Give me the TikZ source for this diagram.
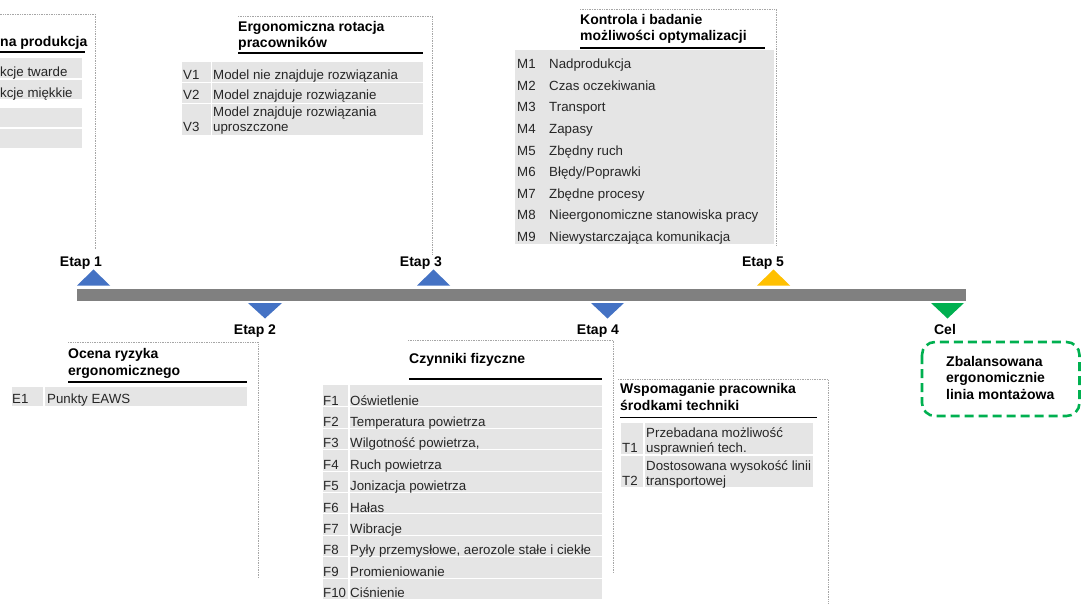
\documentclass[tikz,border=0pt]{standalone}
\usepackage{fontspec}
\setmainfont{Liberation Sans}
\definecolor{cellgray}{RGB}{229,229,229}
\definecolor{bargray}{RGB}{128,128,128}
\definecolor{stepblue}{RGB}{68,114,196}
\definecolor{stepyellow}{RGB}{255,192,0}
\definecolor{goalgreen}{RGB}{0,176,80}

\begin{document}
\begin{tikzpicture}[x=1pt,y=-1pt,
  dotline/.style={color=gray!70,densely dotted,line width=0.7pt},
  cell/.style={fill=cellgray},
  uline/.style={color=black,line width=1.6pt},
  ttl/.style={anchor=base west,inner sep=0pt,font=\fontsize{14}{16}\selectfont\bfseries},
  txt/.style={anchor=base west,inner sep=0pt,text=black!85,font=\fontsize{13.3}{15}\selectfont},
  etap/.style={anchor=base,inner sep=0pt,font=\fontsize{14}{16}\selectfont\bfseries}]
\useasboundingbox (0,0) rectangle (1082,604);
\fill[color=white] (0,0) rectangle (1082,604);
% Drawing the time line
\fill[color=bargray] (76.5,289) rectangle (966,300.5);
% Stages above the line
\fill[color=stepblue] (77,285.5) -- (110,285.5) -- (93.5,269.5) -- cycle;
\node[etap] (etap1) at (81,266.5) {Etap 1};
\fill[color=stepblue] (417,285.5) -- (450,285.5) -- (433.5,269.5) -- cycle;
\node[etap] (etap3) at (421,266.5) {Etap 3};
\fill[color=stepyellow] (757,285.5) -- (790,285.5) -- (773.5,269.5) -- cycle;
\node[etap] (etap5) at (763,266.5) {Etap 5};
% Stages below the line
\fill[color=stepblue] (248,303) -- (282,303) -- (265,318.5) -- cycle;
\node[etap] (etap2) at (255,334) {Etap 2};
\fill[color=stepblue] (591,303) -- (624,303) -- (607.5,318.5) -- cycle;
\node[etap] (etap4) at (598,334) {Etap 4};
\fill[color=goalgreen] (931,303) -- (964,303) -- (947.5,318.5) -- cycle;
\node[etap] (cel) at (945,334) {Cel};
% Done with the time line; drawing the boxes

% Box 1: production
\draw[dotline] (-2,14) -- (95,14) -- (95,250);
\node[ttl] (ttlA) at (0,47) {na produkcja};
\draw[uline] (-2,52) -- (85,52);
\fill[cell] (-2,58) rectangle (82,78.5);
\fill[cell] (-2,80) rectangle (82,99.5);
\fill[cell] (-2,108) rectangle (82,127.5);
\fill[cell] (-2,129.5) rectangle (82,148.5);
\node[txt] (rowA1) at (0,76.5) {kcje twarde};
\node[txt] (rowA2) at (0,97.3) {kcje miękkie};

% Box 3: rotation
\draw[dotline] (238,16) -- (432,16) -- (432,255);
\node[ttl] (ttlC1) at (238,31.5) {Ergonomiczna rotacja};
\node[ttl] (ttlC2) at (238,48) {pracowników};
\draw[uline] (238,53) -- (423,53);
\fill[cell] (182,62) rectangle (210.5,82);
\fill[cell] (212,62) rectangle (423,82);
\fill[cell] (182,83.5) rectangle (210.5,103);
\fill[cell] (212,83.5) rectangle (423,103);
\fill[cell] (182,104.5) rectangle (210.5,135);
\fill[cell] (212,104.5) rectangle (423,135);
\node[txt] (v1) at (183,79.5) {V1};
\node[txt] (v1t) at (213,79.5) {Model nie znajduje rozwiązania};
\node[txt] (v2) at (183,100) {V2};
\node[txt] (v2t) at (213,100) {Model znajduje rozwiązanie};
\node[txt] (v3) at (183,132) {V3};
\node[txt] (v3a) at (213,116.5) {Model znajduje rozwiązania};
\node[txt] (v3b) at (213,132) {uproszczone};

% Box 5: waste check
\draw[dotline] (580,9) -- (776,9) -- (776,245);
\node[ttl] (ttlE1) at (580,24.5) {Kontrola i badanie};
\node[ttl] (ttlE2) at (580,41) {możliwości optymalizacji};
\draw[uline] (580,48) -- (765,48);
\fill[cell] (515,50) rectangle (774,244);
\node[txt] (m1) at (517,68.8) {M1};
\node[txt] (m1t) at (549,68.8) {Nadprodukcja};
\node[txt] (m2) at (517,90.4) {M2};
\node[txt] (m2t) at (549,90.4) {Czas oczekiwania};
\node[txt] (m3) at (517,112) {M3};
\node[txt] (m3t) at (549,112) {Transport};
\node[txt] (m4) at (517,133.6) {M4};
\node[txt] (m4t) at (549,133.6) {Zapasy};
\node[txt] (m5) at (517,155.2) {M5};
\node[txt] (m5t) at (549,155.2) {Zbędny ruch};
\node[txt] (m6) at (517,176.8) {M6};
\node[txt] (m6t) at (549,176.8) {Błędy/Poprawki};
\node[txt] (m7) at (517,198.4) {M7};
\node[txt] (m7t) at (549,198.4) {Zbędne procesy};
\node[txt] (m8) at (517,220) {M8};
\node[txt] (m8t) at (549,220) {Nieergonomiczne stanowiska pracy};
\node[txt] (m9) at (517,241.6) {M9};
\node[txt] (m9t) at (549,241.6) {Niewystarczająca komunikacja};

% Box 2: risk assessment
\draw[dotline] (68,342) -- (258,342) -- (258,578);
\node[ttl] (ttlB1) at (68,358.5) {Ocena ryzyka};
\node[ttl] (ttlB2) at (68,375) {ergonomicznego};
\draw[uline] (68,382) -- (247,382);
\fill[cell] (12,387) rectangle (43,406);
\fill[cell] (45,387) rectangle (247,406);
\node[txt] (e1) at (12,403) {E1};
\node[txt] (e1t) at (47,403) {Punkty EAWS};

% Box 4: physical factors
\draw[dotline] (408,340) -- (613,340) -- (613,573);
\node[ttl] (ttlD) at (409,363.5) {Czynniki fizyczne};
\draw[uline] (409,379) -- (602,379);
\fill[cell] (323,385) rectangle (348,406.4);
\fill[cell] (349.5,385) rectangle (602,406.4);
\fill[cell] (323,407.4) rectangle (348,427.8);
\fill[cell] (349.5,407.4) rectangle (602,427.8);
\fill[cell] (323,428.8) rectangle (348,449.2);
\fill[cell] (349.5,428.8) rectangle (602,449.2);
\fill[cell] (323,450.2) rectangle (348,470.6);
\fill[cell] (349.5,450.2) rectangle (602,470.6);
\fill[cell] (323,471.6) rectangle (348,492);
\fill[cell] (349.5,471.6) rectangle (602,492);
\fill[cell] (323,493) rectangle (348,513.4);
\fill[cell] (349.5,493) rectangle (602,513.4);
\fill[cell] (323,514.4) rectangle (348,534.8);
\fill[cell] (349.5,514.4) rectangle (602,534.8);
\fill[cell] (323,535.8) rectangle (348,556.2);
\fill[cell] (349.5,535.8) rectangle (602,556.2);
\fill[cell] (323,557.2) rectangle (348,577.6);
\fill[cell] (349.5,557.2) rectangle (602,577.6);
\fill[cell] (323,578.6) rectangle (348,599);
\fill[cell] (349.5,578.6) rectangle (602,599);
\node[txt] (f1) at (323,405) {F1};
\node[txt] (f1t) at (350,405) {Oświetlenie};
\node[txt] (f2) at (323,426.4) {F2};
\node[txt] (f2t) at (350,426.4) {Temperatura powietrza};
\node[txt] (f3) at (323,447.8) {F3};
\node[txt] (f3t) at (350,447.8) {Wilgotność powietrza,};
\node[txt] (f4) at (323,469.2) {F4};
\node[txt] (f4t) at (350,469.2) {Ruch powietrza};
\node[txt] (f5) at (323,490.6) {F5};
\node[txt] (f5t) at (350,490.6) {Jonizacja powietrza};
\node[txt] (f6) at (323,512) {F6};
\node[txt] (f6t) at (350,512) {Hałas};
\node[txt] (f7) at (323,533.4) {F7};
\node[txt] (f7t) at (350,533.4) {Wibracje};
\node[txt] (f8) at (323,554.8) {F8};
\node[txt] (f8t) at (350,554.8) {Pyły przemysłowe, aerozole stałe i ciekłe};
\node[txt] (f9) at (323,576.2) {F9};
\node[txt] (f9t) at (350,576.2) {Promieniowanie};
\node[txt] (f10) at (323,597.6) {F10};
\node[txt] (f10t) at (350,597.6) {Ciśnienie};

% Box 4b: technical support
\draw[dotline] (618,379) -- (828,379) -- (828,606);
\node[ttl] (ttlT1) at (620,393.5) {Wspomaganie pracownika};
\node[ttl] (ttlT2) at (620,410) {środkami techniki};
\draw[uline] (620,417.5) -- (817,417.5);
\fill[cell] (621,423) rectangle (643,454);
\fill[cell] (644.5,423) rectangle (813,454);
\fill[cell] (621,456) rectangle (643,487);
\fill[cell] (644.5,456) rectangle (813,487);
\node[txt] (t1) at (622,452) {T1};
\node[txt] (t1a) at (646,437) {Przebadana możliwość};
\node[txt] (t1b) at (646,452) {usprawnień tech.};
\node[txt] (t2) at (622,485) {T2};
\node[txt] (t2a) at (646,470) {Dostosowana wysokość linii};
\node[txt] (t2b) at (646,485) {transportowej};

% Goal box
\draw[color=goalgreen,line width=2.6pt,dash pattern=on 9pt off 5pt,rounded corners=13pt] (922,342) rectangle (1079.5,416);
\node[ttl] (goal1) at (946,366) {Zbalansowana};
\node[ttl] (goal2) at (946,382.5) {ergonomicznie};
\node[ttl] (goal3) at (946,399) {linia montażowa};
% Done with the boxes
\end{tikzpicture}
\end{document}
